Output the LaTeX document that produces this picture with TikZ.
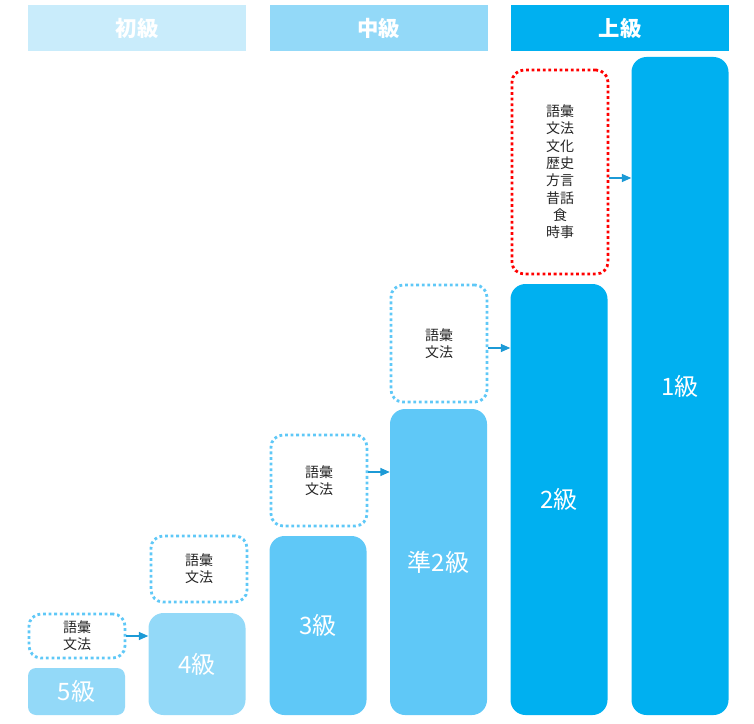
\documentclass[tikz,border=0pt]{standalone}
\usepackage{fontspec}
\setmainfont{Noto Sans CJK JP}
\usetikzlibrary{calc,arrows.meta}
\definecolor{hdrA}{HTML}{C9ECFB}
\definecolor{lvA}{HTML}{93D9F8}
\definecolor{lvB}{HTML}{5FC8F7}
\definecolor{lvC}{HTML}{00B0F0}
\definecolor{arrc}{HTML}{1C9AD6}
\definecolor{txtc}{HTML}{262626}
\definecolor{redc}{HTML}{FF0000}
\tikzset{
  hdr/.style={draw=none,inner sep=0pt,minimum width=218*0.75pt,minimum height=46*0.75pt,
    text=white,font=\fontsize{16}{18}\selectfont\bfseries},
  bar/.style n args={3}{fill=#1,draw=none,inner sep=0pt,rounded corners=#3*0.75pt,
    minimum width=97*0.75pt,minimum height=#2*0.75pt,text=white,
    font=\fontsize{18}{20}\selectfont},
  dotbox/.style n args={3}{draw=#1,line width=2.1pt,dash pattern=on 2.1pt off 2.1pt,
    rounded corners=12*0.75pt,inner sep=0pt,minimum width=96*0.75pt,minimum height=#2*0.75pt,
    text=txtc,align=center,font=\fontsize{10.5}{13}\selectfont},
  arr/.style={draw=arrc,line width=0.9pt,-{Triangle[length=7pt,width=6pt]}},
}
\begin{document}
\begin{tikzpicture}[x=0.75pt,y=-0.75pt]
\useasboundingbox (0,0) rectangle (754,724);
% headers
\node[hdr,fill=hdrA] (h1) at (137,28) {初級};
\node[hdr,fill=lvA] (h2) at (378.5,28) {中級};
\node[hdr,fill=lvC] (h3) at (620,28) {上級};
% bars
\node[bar={lvA}{47}{8}] (b5) at (76.5,691.5) {5級};
\node[bar={lvA}{102}{15}] (b4) at (197,664) {4級};
\node[bar={lvB}{179}{15}] (b3) at (318,625.5) {3級};
\node[bar={lvB}{306}{15}] (bp2) at (438.5,562) {準2級};
\node[bar={lvC}{431}{15}] (b2) at (559,499.5) {2級};
\node[bar={lvC}{658}{15}] (b1) at (680,386) {1級};
% dotted boxes
\node[dotbox={lvB}{44}{}] (d5) at (77,636) {語彙\\文法};
\node[dotbox={lvB}{66}{}] (d4) at (199,569) {語彙\\文法};
\node[dotbox={lvB}{91}{}] (d3) at (319,480.5) {語彙\\文法};
\node[dotbox={lvB}{117}{}] (dp2) at (439,343.5) {語彙\\文法};
\node[dotbox={redc}{204}{}] (d2) at (560,172) {語彙\\文法\\文化\\歴史\\方言\\昔話\\食\\時事};
% arrows
\draw[arr] (d5.east) -- (d5.east -| b4.west);
\coordinate (a3) at ($(d3.east)+(0,-8.5)$);
\draw[arr] (a3) -- (a3 -| bp2.west);
\coordinate (ap2) at ($(dp2.east)+(0,4.5)$);
\draw[arr] (ap2) -- (ap2 -| b2.west);
\coordinate (a2) at ($(d2.east)+(0,6)$);
\draw[arr] (a2) -- (a2 -| b1.west);
\end{tikzpicture}
\end{document}
